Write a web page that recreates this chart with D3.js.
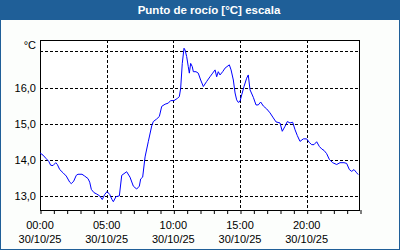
<!DOCTYPE html>
<html><head><meta charset="utf-8">
<script src="https://cdn.jsdelivr.net/npm/d3@7"></script>
<style>
html,body{margin:0;padding:0;background:#fff;}
svg{display:block;}
text{font-family:"Liberation Sans",Arial,sans-serif;}
</style></head>
<body>
<svg id="chart" width="400" height="250"></svg>
<script>
const title = "Punto de rocío [°C] escala";
const unitLabel = "°C";
const hours = [0.00,0.225,0.47,0.65,0.80,0.975,1.18,1.30,1.48,1.73,1.97,2.23,2.35,2.53,2.72,2.85,3.15,3.35,3.60,3.73,3.85,4.05,4.22,4.48,4.67,4.85,5.03,5.23,5.40,5.50,5.70,5.95,6.13,6.50,6.75,7.00,7.25,7.45,7.55,7.70,7.88,8.12,8.38,8.50,8.75,8.95,9.13,9.38,9.62,9.80,10.05,10.30,10.45,10.55,10.67,10.80,10.88,11.00,11.12,11.20,11.30,11.42,11.50,11.70,11.87,12.05,12.25,12.50,12.75,12.95,13.13,13.25,13.37,13.50,13.70,13.88,14.20,14.33,14.50,14.63,14.75,14.87,15.00,15.13,15.30,15.50,15.62,15.75,16.00,16.20,16.37,16.55,16.75,17.00,17.25,17.50,17.70,18.00,18.17,18.38,18.55,18.75,18.95,19.13,19.30,19.50,19.75,20.00,20.20,20.38,20.55,20.75,20.95,21.13,21.30,21.50,21.70,21.95,22.25,22.50,22.80,23.00,23.20,23.38,23.55,23.75,23.87];
const dewPoint = [14.19,14.13,14.03,13.96,13.85,13.84,13.92,13.87,13.73,13.64,13.55,13.38,13.34,13.41,13.57,13.60,13.60,13.55,13.48,13.38,13.18,13.09,13.06,13.00,12.90,13.04,13.12,13.04,12.90,12.84,12.98,13.00,13.57,13.67,13.52,13.27,13.19,13.27,13.47,13.52,14.08,14.50,14.94,15.06,15.13,15.20,15.48,15.54,15.57,15.64,15.64,15.70,15.75,15.98,16.67,17.09,17.04,16.86,16.58,16.40,16.67,16.58,16.44,16.44,16.40,16.21,16.03,16.17,16.30,16.40,16.49,16.30,16.44,16.35,16.44,16.54,16.63,16.49,16.21,15.85,15.66,15.59,15.62,15.80,16.03,16.26,16.35,15.94,15.73,15.52,15.52,15.60,15.49,15.41,15.30,15.16,15.05,15.02,14.79,14.93,15.06,15.02,15.04,14.83,14.67,14.51,14.58,14.58,14.48,14.42,14.42,14.50,14.37,14.30,14.26,14.17,14.01,13.92,13.87,13.92,13.92,13.90,13.73,13.68,13.73,13.64,13.59];
const yTicks = [13, 14, 15, 16, 17];
const yTickLabels = ["13,0", "14,0", "15,0", "16,0", "°C"];
const xMajorTicks = [0, 5, 10, 15, 20];
const xTimeLabels = ["00:00", "05:00", "10:00", "15:00", "20:00"];
const dateLabel = "30/10/25";

const svg = d3.select("#chart");
const W = 400, H = 250;
const frameColor = "#1f5f98";
const plot = {left: 40, top: 40, right: 360, bottom: 210};

// frame & title bar
svg.append("rect").attr("x",0.5).attr("y",0.5).attr("width",W-1).attr("height",H-1)
  .attr("fill","#fcfefc").attr("stroke",frameColor).attr("stroke-width",1);
svg.append("rect").attr("x",0).attr("y",0).attr("width",W).attr("height",20).attr("fill",frameColor);
svg.append("text").attr("x",209).attr("y",14).attr("text-anchor","middle")
  .attr("fill","#fff").attr("font-weight","bold").attr("font-size","11.5px").text(title);

const x = d3.scaleLinear().domain([0,24]).range([plot.left, plot.right]);
const y = d3.scaleLinear().domain([17.318, 12.61]).range([plot.top, plot.bottom]);

// plot background
svg.append("rect").attr("x",plot.left).attr("y",plot.top)
  .attr("width",plot.right-plot.left).attr("height",plot.bottom-plot.top).attr("fill","#fff");

// grid
const g = svg.append("g");
g.selectAll("line.hg").data(yTicks).join("line").attr("class","hg")
  .attr("x1",plot.left).attr("x2",plot.right)
  .attr("y1",d=>Math.round(y(d))+0.5).attr("y2",d=>Math.round(y(d))+0.5)
  .attr("stroke","#000").attr("stroke-dasharray","3,2");
g.selectAll("line.vg").data(xMajorTicks.filter(d=>d>0)).join("line").attr("class","vg")
  .attr("y1",plot.top).attr("y2",plot.bottom)
  .attr("x1",d=>Math.round(x(d))+0.5).attr("x2",d=>Math.round(x(d))+0.5)
  .attr("stroke","#000").attr("stroke-dasharray","3,2");

// x axis minor hourly ticks
const xAxis = d3.axisBottom(x).tickValues(d3.range(0,25,1)).tickSize(4).tickFormat("");
const xa = svg.append("g").attr("transform",`translate(0.5,${plot.bottom})`).call(xAxis);
xa.select(".domain").remove();
xa.selectAll("line").attr("stroke","#000");

// x labels
const xl = svg.append("g");
xMajorTicks.forEach((t,i)=>{
  xl.append("text").attr("x",x(t)).attr("y",229).attr("text-anchor","middle")
    .attr("font-size","11px").attr("fill","#000").text(xTimeLabels[i]);
  xl.append("text").attr("x",x(t)).attr("y",243).attr("text-anchor","middle")
    .attr("font-size","11px").attr("fill","#000").text(dateLabel);
});

// y labels
const yAxis = d3.axisLeft(y).tickValues(yTicks).tickSize(0).tickPadding(4)
  .tickFormat((d,i)=>yTickLabels[i]);
const ya = svg.append("g").attr("transform",`translate(${plot.left},0)`).call(yAxis);
ya.select(".domain").remove();
ya.selectAll("text").attr("font-size","11px").attr("fill","#000")
  .attr("font-family","Liberation Sans, Arial, sans-serif");
ya.selectAll(".tick").filter(d=>d===17).select("text").attr("dy","-0.25em");

// plot border
svg.append("rect").attr("x",plot.left+0.5).attr("y",plot.top+0.5)
  .attr("width",plot.right-plot.left-1).attr("height",plot.bottom-plot.top)
  .attr("fill","none").attr("stroke","#000");

// line
const line = d3.line().x((d,i)=>x(hours[i])).y(d=>y(d));
svg.append("path").datum(dewPoint).attr("d",line)
  .attr("fill","none").attr("stroke","#0000ff").attr("stroke-width",1);
</script>
</body></html>
